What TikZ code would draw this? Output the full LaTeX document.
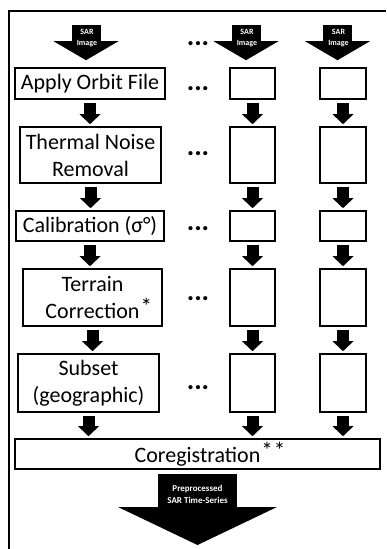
\documentclass[tikz,border=0pt]{standalone}
\usepackage{fontspec}
\setmainfont{Carlito}
\usetikzlibrary{arrows.meta}
\begin{document}
\begin{tikzpicture}[x=1pt,y=-1pt,
 box/.style={draw, line width=1.6pt, inner sep=0pt, align=center, font=\fontsize{22}{27}\selectfont},
 flow/.style={line width=12pt, -{Triangle[width=21pt,length=10pt,line width=0pt]}, shorten <=3pt, shorten >=2pt},
 sarflow/.style={line width=29pt, -{Triangle[width=65pt,length=19pt,line width=0pt]}, shorten >=7pt},
 bigflow/.style={line width=79pt, -{Triangle[width=159pt,length=38pt,line width=0pt]}, shorten <=4pt},
 sartext/.style={text=white, font=\fontsize{8}{11}\selectfont\bfseries, align=center, inner sep=0pt},
 outtext/.style={text=white, font=\fontsize{9}{11.5}\selectfont\bfseries, align=center, inner sep=0pt},
 dotsnode/.style={font=\fontsize{28}{28}\selectfont\bfseries, inner sep=0pt, anchor=base},
 frameline/.style={line width=1.8pt}]
\useasboundingbox (0,0) rectangle (386,549);
\draw[frameline] (8.7,549) -- (8.7,11) -- (386,11);

% column 1
\node[box, minimum width=150pt, minimum height=31pt] (a1) at (90,83.5) {Apply Orbit File};
\node[box, minimum width=141pt, minimum height=56pt] (t1) at (90.5,155) {Thermal Noise\\Removal};
\node[box, minimum width=148pt, minimum height=30pt] (c1) at (90,226) {Calibration (σ°)};
\node[box, minimum width=139pt, minimum height=57pt] (r1) at (92.5,297.5) {Terrain\\Correction\rlap{\kern1pt\raisebox{4pt}{\fontsize{23}{23}\selectfont *}}};
\node[box, minimum width=141pt, minimum height=58pt] (s1) at (88.5,383) {Subset\\(geographic)};
% column 2
\node[box, minimum width=45pt, minimum height=31pt] (a2) at (252.5,83.5) {};
\node[box, minimum width=45pt, minimum height=56pt] (t2) at (252.5,155) {};
\node[box, minimum width=45pt, minimum height=30pt] (c2) at (252.5,226) {};
\node[box, minimum width=45pt, minimum height=57pt] (r2) at (252.5,297.5) {};
\node[box, minimum width=45pt, minimum height=58pt] (s2) at (252.5,383) {};
% column 3
\node[box, minimum width=46pt, minimum height=31pt] (a3) at (343,83.5) {};
\node[box, minimum width=46pt, minimum height=56pt] (t3) at (343,155) {};
\node[box, minimum width=46pt, minimum height=30pt] (c3) at (343,226) {};
\node[box, minimum width=46pt, minimum height=57pt] (r3) at (343,297.5) {};
\node[box, minimum width=46pt, minimum height=58pt] (s3) at (343,383) {};
% coregistration
\node[box, minimum width=365pt, minimum height=30pt] (g) at (197.5,454) {Coregistration\rlap{\kern1pt\raisebox{4pt}{\fontsize{23}{23}\selectfont *\kern1pt*}}};

% input arrows
\coordinate (in1) at (86,25);
\coordinate (in2) at (246,25);
\coordinate (in3) at (337.5,25);
\draw[sarflow] (in1) -- (in1 |- a1.north);
\draw[sarflow] (in2) -- (in2 |- a2.north);
\draw[sarflow] (in3) -- (in3 |- a3.north);
\node[sartext] (l1) at (87,38.5) {SAR\\Image};
\node[sartext] (l2) at (247,38.5) {SAR\\Image};
\node[sartext] (l3) at (338.5,38.5) {SAR\\Image};

% flow arrows
\foreach \c in {1,2,3}{
  \draw[flow] (a\c.south) -- (a\c.south |- t\c.north);
  \draw[flow] (t\c.south) -- (t\c.south |- c\c.north);
  \draw[flow] (c\c.south) -- (c\c.south |- r\c.north);
  \draw[flow] (r\c.south) -- (r\c.south |- s\c.north);
  \draw[flow] (s\c.south) -- (s\c.south |- g.north);
}

% output arrow
\coordinate (out) at (197.5,545);
\draw[bigflow] (g.south) -- (out);
\node[outtext] (lo) at (197.5,494.5) {Preprocessed\\SAR Time-Series};

% dots
\node[dotsnode] (d0) at (198,45) {...};
\node[dotsnode] (d1) at (198,90) {...};
\node[dotsnode] (d2) at (198,155) {...};
\node[dotsnode] (d3) at (198,230) {...};
\node[dotsnode] (d4) at (198,300) {...};
\node[dotsnode] (d5) at (198,389) {...};
\end{tikzpicture}
\end{document}
